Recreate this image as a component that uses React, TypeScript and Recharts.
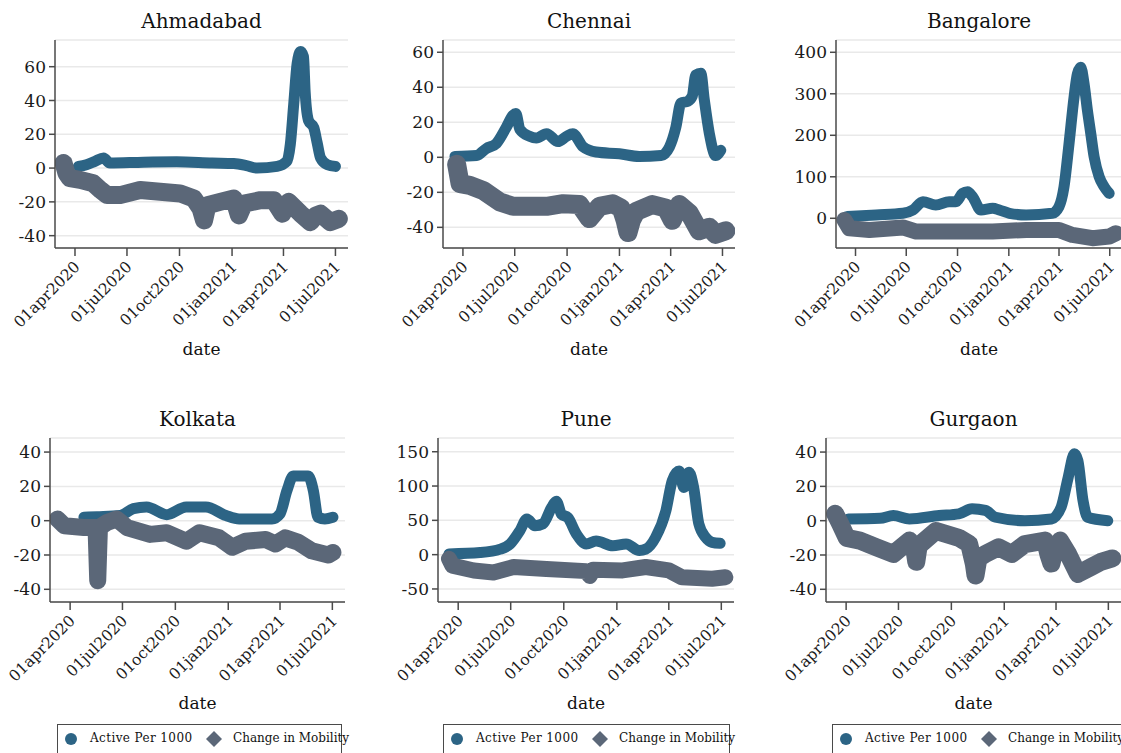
import React from "react";
import { LineChart, Line, XAxis, YAxis, CartesianGrid } from "recharts";

const FONT = '"DejaVu Serif", serif';
const BLUE = "#2c6485";
const GRAY = "#5b6778";
const AXIS = "#4a4a4a";

// x values are days counted from 01apr2020
const dateTicks = [0, 91, 183, 275, 365, 456];
const dateLabels = ["01apr2020", "01jul2020", "01oct2020", "01jan2021", "01apr2021", "01jul2021"];
const dateDomain = [-35, 478];

// [day, value] readings for each city
const ahmadabadActive = [[6, 1], [20, 2], [35, 4], [50, 6], [61, 3], [120, 3.5], [178, 3.7], [240, 3], [278, 2.7], [300, 1.5], [319, 0], [354, 1], [371, 4], [377, 14], [383, 38], [389, 62], [395, 69], [400, 66], [403, 45], [409, 28], [418, 24], [424, 15], [430, 6], [442, 2], [456, 1]];
const ahmadabadMobility = [[-20, 3], [-15, -3], [-9, -6], [9, -7], [32, -9], [45, -13], [56, -16], [79, -16], [114, -13], [149, -14], [184, -15], [208, -18], [220, -24], [226, -31], [232, -22], [254, -20], [278, -18], [287, -28], [296, -21], [325, -19], [348, -19], [363, -27], [374, -20], [395, -27], [412, -32], [422, -28], [430, -27], [447, -32], [462, -30]];

const chennaiActive = [[-14, 0.5], [24, 1], [41, 5], [59, 8], [76, 17], [88, 24], [93, 25], [100, 16], [117, 12], [129, 11], [147, 13.5], [167, 9], [182, 12], [193, 13.5], [211, 6], [234, 3], [275, 2], [310, 0.5], [348, 1], [363, 6], [374, 17], [383, 31], [395, 32], [403, 35], [409, 47], [418, 48], [424, 33], [433, 13.5], [444, 1], [453, 4]];
const chennaiMobility = [[-11, -4], [-5, -15], [12, -16], [36, -19], [65, -25.5], [88, -28], [117, -28], [147, -28], [176, -26.5], [205, -27], [222, -35], [240, -28], [263, -26.5], [278, -29], [285, -36], [290, -43], [296, -36], [304, -31], [333, -27], [357, -29], [368, -36], [380, -27], [398, -32], [415, -42], [433, -40], [444, -44], [462, -42]];

const bangaloreActive = [[-16, 4], [37, 8], [85, 12], [103, 20], [121, 40], [144, 32], [168, 40], [180, 40], [192, 60], [201, 64], [210, 52], [225, 20], [246, 24], [258, 20], [276, 12], [306, 8], [353, 12], [365, 28], [374, 76], [383, 180], [392, 292], [398, 348], [404, 364], [410, 324], [416, 260], [422, 204], [428, 148], [437, 100], [446, 76], [455, 60]];
const bangaloreMobility = [[-20, -4], [-11, -24], [25, -28], [85, -22], [109, -32], [186, -32], [246, -32], [306, -28], [365, -28], [389, -40], [425, -48], [455, -44], [467, -36]];

const kolkataActive = [[24, 2], [47, 2.3], [87, 3], [110, 7], [133, 8], [168, 3.5], [202, 8], [236, 8], [271, 3], [294, 1], [351, 1], [365, 4], [377, 17.5], [388, 26], [414, 26], [423, 17.5], [431, 2], [443, 1], [457, 2]];
const kolkataMobility = [[-22, 1], [-10, -3], [24, -4], [45, -4], [48, -35], [51, -4], [64, -1], [81, 1], [99, -4], [139, -8], [168, -7], [202, -12], [225, -7], [259, -10], [282, -15.5], [305, -12], [340, -11], [357, -13.6], [374, -10], [397, -12.6], [420, -17.5], [449, -20], [457, -18.5]];

const puneActive = [[-16, 1], [38, 3], [73, 8], [90, 15.5], [107, 35], [119, 52], [133, 42], [147, 45], [162, 69], [170, 78], [179, 59], [190, 54], [205, 30], [222, 15.5], [239, 20], [268, 13], [291, 15.5], [314, 6], [325, 8], [342, 25], [360, 64], [371, 108], [383, 122], [391, 98], [400, 120], [408, 98], [417, 45], [429, 25], [440, 18], [454, 16.5]];
const puneMobility = [[-16, -6], [-10, -16], [27, -23], [61, -26], [96, -18], [153, -21], [222, -24], [228, -31], [234, -22], [285, -23], [325, -18], [365, -23], [388, -33], [440, -35], [463, -33]];

const gurgaonActive = [[4, 1], [59, 1.4], [82, 3], [110, 1], [162, 3], [196, 4], [219, 7], [242, 6], [260, 2], [311, 0], [357, 1], [374, 8], [386, 25], [397, 39], [403, 35], [412, 11.6], [420, 2], [455, 0]];
const gurgaonMobility = [[-19, 4], [-10, -2], [1, -10], [24, -11.6], [53, -15.5], [82, -19.4], [110, -11.6], [118, -15], [122, -24], [126, -15], [133, -12.6], [156, -6], [196, -10], [214, -13.6], [222, -25], [225, -32], [230, -22], [242, -19.4], [265, -15.5], [288, -19.4], [311, -13.6], [346, -11.6], [352, -20], [357, -25], [362, -18], [372, -11.6], [386, -19.4], [403, -31], [426, -27], [443, -24], [463, -22]];

const ticksPm40 = [-40, -20, 0, 20, 40];

const panels = [
  { title: "Ahmadabad", active: ahmadabadActive, mobility: ahmadabadMobility, yDomain: [-47.3, 75.8], yTicks: [-40, -20, 0, 20, 40, 60], left: 55, right: 348, top: 40, bottom: 248, band: 18 },
  { title: "Chennai", active: chennaiActive, mobility: chennaiMobility, yDomain: [-51.8, 67], yTicks: [-40, -20, 0, 20, 40, 60], left: 443, right: 735, top: 40, bottom: 248, band: 19 },
  { title: "Bangalore", active: bangaloreActive, mobility: bangaloreMobility, yDomain: [-71.6, 429.6], yTicks: [0, 100, 200, 300, 400], left: 836, right: 1122, top: 40, bottom: 248, band: 16 },
  { title: "Kolkata", active: kolkataActive, mobility: kolkataMobility, yDomain: [-47.4, 48.2], yTicks: ticksPm40, left: 50, right: 345, top: 438, bottom: 602, band: 17 },
  { title: "Pune", active: puneActive, mobility: puneMobility, yDomain: [-69, 170], yTicks: [-50, 0, 50, 100, 150], left: 438, right: 734, top: 438, bottom: 602, band: 16 },
  { title: "Gurgaon", active: gurgaonActive, mobility: gurgaonMobility, yDomain: [-47.4, 48.2], yTicks: ticksPm40, left: 826, right: 1121, top: 438, bottom: 602, band: 18 },
];

// legend boxes under the bottom row
const legendBoxes = [
  { left: 57, width: 283 },
  { left: 443, width: 285 },
  { left: 832, width: 300 },
];

const toPoints = (pairs: number[][]) => pairs.map(([day, value]) => ({ day, value }));

const Y_W = 60;
const X_H = 100;
const PAD = 8;

function DateTick({ x, y, payload }: any) {
  const label = dateLabels[dateTicks.indexOf(payload.value)];
  return (
    <g transform={`translate(${x + 2},${y + 6})`}>
      <text
        textAnchor="end"
        transform="rotate(-45)"
        dy="0.35em"
        fontSize={15.5}
        fontFamily={FONT}
        fill="#1a1a1a"
      >
        {label}
      </text>
    </g>
  );
}

function Panel({ p }: { p: (typeof panels)[number] }) {
  const plotW = p.right - p.left;
  const plotH = p.bottom - p.top;
  const center = (p.left + p.right) / 2;
  return (
    <>
      <div
        style={{
          position: "absolute",
          left: center - 100,
          width: 200,
          top: p.top - 31,
          textAlign: "center",
          fontFamily: FONT,
          fontSize: 20,
          color: "#111",
          lineHeight: "24px",
        }}
      >
        {p.title}
      </div>
      <div style={{ position: "absolute", left: p.left - Y_W, top: p.top - PAD }}>
        <LineChart
          width={plotW + Y_W + PAD}
          height={plotH + PAD + X_H}
          margin={{ top: PAD, right: PAD, left: 0, bottom: 0 }}
        >
          <CartesianGrid vertical={false} stroke="#e9e9e9" strokeWidth={1.5} />
          <XAxis
            dataKey="day"
            type="number"
            domain={dateDomain}
            ticks={dateTicks}
            interval={0}
            allowDataOverflow
            height={X_H}
            tickSize={8}
            tick={<DateTick />}
            axisLine={{ stroke: AXIS, strokeWidth: 1.5 }}
            tickLine={{ stroke: AXIS, strokeWidth: 1.5 }}
          />
          <YAxis
            type="number"
            domain={p.yDomain}
            ticks={p.yTicks}
            interval={0}
            allowDataOverflow
            width={Y_W}
            tickSize={6}
            tickMargin={3}
            tick={{ fontSize: 17, fontFamily: FONT, fill: "#1a1a1a" }}
            axisLine={{ stroke: AXIS, strokeWidth: 1.5 }}
            tickLine={{ stroke: AXIS, strokeWidth: 1.5 }}
          />
          <Line
            data={toPoints(p.active)}
            dataKey="value"
            type="monotone"
            stroke={BLUE}
            strokeWidth={11}
            strokeLinecap="round"
            strokeLinejoin="round"
            dot={false}
            isAnimationActive={false}
          />
          <Line
            data={toPoints(p.mobility)}
            dataKey="value"
            type="linear"
            stroke={GRAY}
            strokeWidth={p.band}
            strokeLinecap="round"
            strokeLinejoin="round"
            dot={false}
            isAnimationActive={false}
          />
        </LineChart>
      </div>
      <div
        style={{
          position: "absolute",
          left: center - 60,
          width: 120,
          top: p.bottom + 91,
          textAlign: "center",
          fontFamily: FONT,
          fontSize: 17,
          color: "#111",
          lineHeight: "20px",
        }}
      >
        date
      </div>
    </>
  );
}

function LegendBox({ left, width }: { left: number; width: number }) {
  return (
    <div
      style={{
        position: "absolute",
        left,
        top: 724,
        width,
        height: 40,
        border: `1.5px solid ${AXIS}`,
        background: "#fff",
        fontFamily: FONT,
        fontSize: 12,
        color: "#111",
      }}
    >
      <svg width={14} height={14} style={{ position: "absolute", left: 6, top: 7 }}>
        <circle cx={7} cy={7} r={6} fill={BLUE} />
      </svg>
      <span style={{ position: "absolute", left: 32, top: 6, whiteSpace: "nowrap", letterSpacing: 0.4 }}>Active Per 1000</span>
      <svg width={18} height={18} style={{ position: "absolute", left: 147, top: 5 }}>
        <polygon points="9,1 17,9 9,17 1,9" fill={GRAY} />
      </svg>
      <span style={{ position: "absolute", left: 175, top: 6, whiteSpace: "nowrap" }}>Change in Mobility</span>
    </div>
  );
}

export default function App() {
  return (
    <div
      style={{
        position: "absolute",
        left: 0,
        top: 0,
        width: 1121,
        height: 753,
        overflow: "hidden",
        background: "#fff",
      }}
    >
      {panels.map((p) => (
        <Panel key={p.title} p={p} />
      ))}
      {legendBoxes.map((b) => (
        <LegendBox key={b.left} left={b.left} width={b.width} />
      ))}
    </div>
  );
}
